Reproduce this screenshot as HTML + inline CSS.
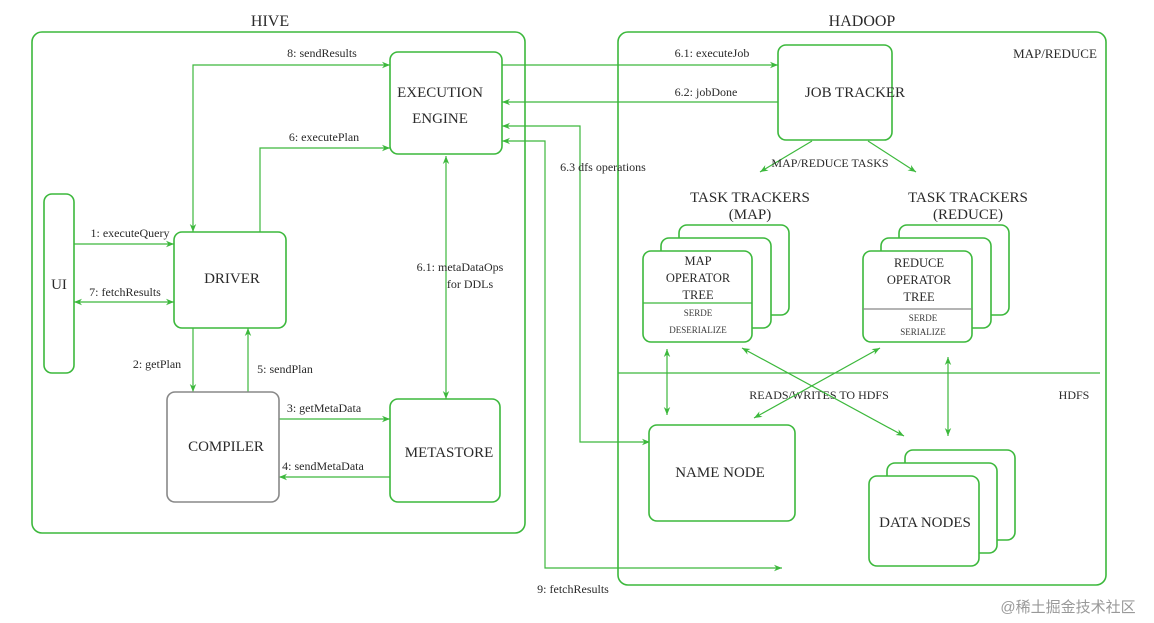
<!DOCTYPE html>
<html><head><meta charset="utf-8"><style>
html,body{margin:0;padding:0;background:#fff;}
svg{display:block;}
text{font-family:"Liberation Serif","Noto Serif CJK SC",serif;fill:#2a2a2a;}
.b{fill:#fff;stroke:#3cb83c;stroke-width:1.6;}
.l{fill:none;stroke:#3cb83c;stroke-width:1.2;}
.m{font-size:15px;text-anchor:middle;}
.s{font-size:12px;text-anchor:middle;}
.t{font-size:9px;text-anchor:middle;fill:#3a3a3a;}
</style></head><body>
<svg width="1154" height="623" viewBox="0 0 1154 623" xmlns="http://www.w3.org/2000/svg">
<defs>
<marker id="a" viewBox="0 0 10 10" refX="10" refY="5" markerWidth="10" markerHeight="8" orient="auto-start-reverse" markerUnits="userSpaceOnUse"><path d="M0,1 L10,5 L0,9 L3,5 Z" fill="#3cb83c"/></marker>
</defs>
<text x="270" y="26" class="m" style="font-size:16px">HIVE</text>
<text x="862" y="26" class="m" style="font-size:16px">HADOOP</text>
<rect x="32" y="32" width="493" height="501" rx="10" class="b" style="fill:none"/>
<rect x="618" y="32" width="488" height="553" rx="10" class="b" style="fill:none"/>
<text x="1055" y="58" class="s" style="font-size:13px">MAP/REDUCE</text>
<line x1="618" y1="373" x2="1100" y2="373" class="l"/>
<text x="819" y="399" class="s">READS/WRITES TO HDFS</text>
<text x="1074" y="399" class="s">HDFS</text>

<polyline points="390,65 193,65 193,232" class="l" marker-start="url(#a)" marker-end="url(#a)"/>
<text x="322" y="57" class="s">8: sendResults</text>
<polyline points="260,232 260,148 390,148" class="l" marker-end="url(#a)"/>
<text x="324" y="141" class="s">6: executePlan</text>
<line x1="74" y1="244" x2="174" y2="244" class="l" marker-end="url(#a)"/>
<text x="130" y="237" class="s">1: executeQuery</text>
<line x1="74" y1="302" x2="174" y2="302" class="l" marker-start="url(#a)" marker-end="url(#a)"/>
<text x="125" y="296" class="s">7: fetchResults</text>
<line x1="193" y1="328" x2="193" y2="392" class="l" marker-end="url(#a)"/>
<text x="157" y="368" class="s">2: getPlan</text>
<line x1="248" y1="392" x2="248" y2="328" class="l" marker-end="url(#a)"/>
<text x="285" y="373" class="s">5: sendPlan</text>
<line x1="279" y1="419" x2="390" y2="419" class="l" marker-end="url(#a)"/>
<text x="324" y="412" class="s">3: getMetaData</text>
<line x1="390" y1="477" x2="279" y2="477" class="l" marker-end="url(#a)"/>
<text x="323" y="470" class="s">4: sendMetaData</text>
<line x1="446" y1="156" x2="446" y2="399" class="l" marker-start="url(#a)" marker-end="url(#a)"/>
<text x="460" y="271" class="s">6.1: metaDataOps</text>
<text x="470" y="288" class="s">for DDLs</text>

<line x1="502" y1="65" x2="778" y2="65" class="l" marker-end="url(#a)"/>
<text x="712" y="57" class="s">6.1: executeJob</text>
<line x1="778" y1="102" x2="502" y2="102" class="l" marker-end="url(#a)"/>
<text x="706" y="96" class="s">6.2: jobDone</text>
<polyline points="650,442 580,442 580,126 502,126" class="l" marker-start="url(#a)" marker-end="url(#a)"/>
<polyline points="782,568 545,568 545,141 502,141" class="l" marker-start="url(#a)" marker-end="url(#a)"/>
<text x="603" y="171" class="s">6.3 dfs operations</text>
<text x="573" y="593" class="s">9: fetchResults</text>

<rect x="390" y="52" width="112" height="102" rx="8" class="b"/>
<text x="440" y="97" class="m">EXECUTION</text>
<text x="440" y="123" class="m">ENGINE</text>
<rect x="44" y="194" width="30" height="179" rx="8" class="b"/>
<text x="59" y="289" class="m">UI</text>
<rect x="174" y="232" width="112" height="96" rx="8" class="b"/>
<text x="232" y="283" class="m">DRIVER</text>
<rect x="167" y="392" width="112" height="110" rx="8" class="b" style="stroke:#888"/>
<text x="226" y="451" class="m">COMPILER</text>
<rect x="390" y="399" width="110" height="103" rx="8" class="b"/>
<text x="449" y="457" class="m">METASTORE</text>

<rect x="778" y="45" width="114" height="95" rx="8" class="b"/>
<text x="855" y="97" class="m">JOB TRACKER</text>
<line x1="812" y1="141" x2="760" y2="172" class="l" marker-end="url(#a)"/>
<line x1="868" y1="141" x2="916" y2="172" class="l" marker-end="url(#a)"/>
<text x="830" y="167" class="s">MAP/REDUCE TASKS</text>
<text x="750" y="202" class="m">TASK TRACKERS</text>
<text x="750" y="219" class="m">(MAP)</text>
<text x="968" y="202" class="m">TASK TRACKERS</text>
<text x="968" y="219" class="m">(REDUCE)</text>

<rect x="679" y="225" width="110" height="90" rx="8" class="b"/>
<rect x="661" y="238" width="110" height="90" rx="8" class="b"/>
<rect x="643" y="251" width="109" height="91" rx="8" class="b"/>
<line x1="643" y1="303" x2="752" y2="303" class="l"/>
<text x="698" y="265" class="s" style="font-size:12.5px">MAP</text>
<text x="698" y="282" class="s" style="font-size:12.5px">OPERATOR</text>
<text x="698" y="299" class="s" style="font-size:12.5px">TREE</text>
<text x="698" y="316" class="t">SERDE</text>
<text x="698" y="333" class="t">DESERIALIZE</text>

<rect x="899" y="225" width="110" height="90" rx="8" class="b"/>
<rect x="881" y="238" width="110" height="90" rx="8" class="b"/>
<rect x="863" y="251" width="109" height="91" rx="8" class="b"/>
<line x1="863" y1="309" x2="972" y2="309" class="l" style="stroke:#888"/>
<text x="919" y="267" class="s" style="font-size:12.5px">REDUCE</text>
<text x="919" y="284" class="s" style="font-size:12.5px">OPERATOR</text>
<text x="919" y="301" class="s" style="font-size:12.5px">TREE</text>
<text x="923" y="321" class="t">SERDE</text>
<text x="923" y="335" class="t">SERIALIZE</text>

<line x1="667" y1="349" x2="667" y2="415" class="l" marker-start="url(#a)" marker-end="url(#a)"/>
<line x1="742" y1="348" x2="904" y2="436" class="l" marker-start="url(#a)" marker-end="url(#a)"/>
<line x1="880" y1="348" x2="754" y2="418" class="l" marker-start="url(#a)" marker-end="url(#a)"/>
<line x1="948" y1="357" x2="948" y2="436" class="l" marker-start="url(#a)" marker-end="url(#a)"/>

<rect x="649" y="425" width="146" height="96" rx="8" class="b"/>
<text x="720" y="477" class="m">NAME NODE</text>
<rect x="905" y="450" width="110" height="90" rx="8" class="b"/>
<rect x="887" y="463" width="110" height="90" rx="8" class="b"/>
<rect x="869" y="476" width="110" height="90" rx="8" class="b"/>
<text x="925" y="527" class="m">DATA NODES</text>

<text x="1068" y="612" class="m" style="fill:#999;font-family:'Liberation Sans','Noto Sans CJK SC',sans-serif;font-size:15px">@稀土掘金技术社区</text>
</svg>
</body></html>
